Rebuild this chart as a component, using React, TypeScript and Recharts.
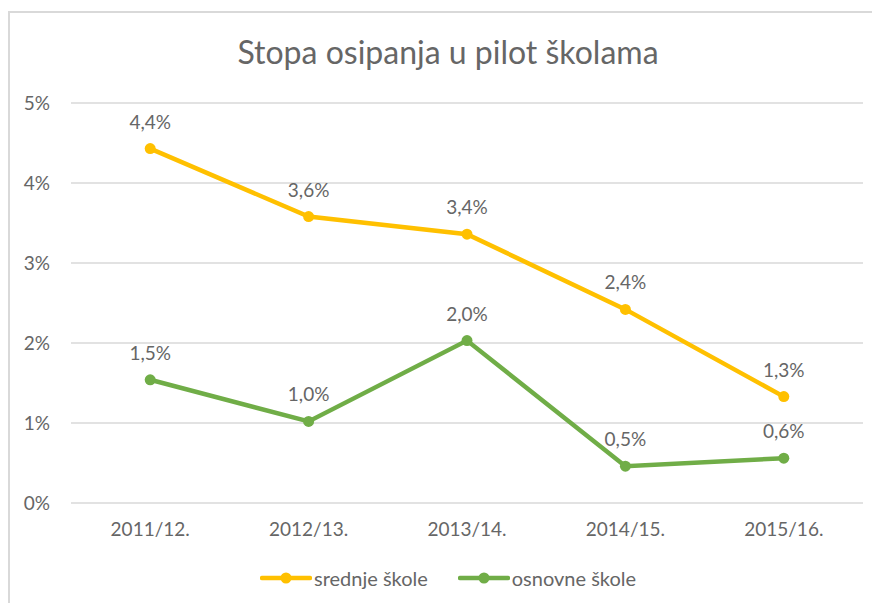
import { LineChart, Line, XAxis, YAxis, CartesianGrid, LabelList } from 'recharts';

const categories = ['2011/12.', '2012/13.', '2013/14.', '2014/15.', '2015/16.'];
const srednje = [4.43, 3.58, 3.36, 2.42, 1.33];
const osnovne = [1.54, 1.02, 2.03, 0.46, 0.56];
const yTicks = [0, 1, 2, 3, 4, 5];

const SERIES = [
  { key: 'srednje', name: 'srednje škole', color: '#FFC000' },
  { key: 'osnovne', name: 'osnovne škole', color: '#70AD47' },
];

const TEXT = '#666666';
const FONT = 'Lato, "Open Sans", sans-serif';

const data = categories.map((cat, i) => ({
  cat,
  srednje: srednje[i],
  osnovne: osnovne[i],
}));

const fmt = (v: number) => `${v.toFixed(1).replace('.', ',')}%`;

const App = () => {
  return (
    <div style={{ position: 'relative', width: 880, height: 611, margin: -8, overflow: 'hidden', background: '#fff' }}>
      <div
        style={{
          position: 'absolute',
          left: 8,
          top: 11,
          width: 900,
          height: 700,
          border: '2px solid #d9d9d9',
        }}
      />
      <div
        style={{
          position: 'absolute',
          top: 32,
          left: 0,
          width: 896,
          textAlign: 'center',
          fontFamily: FONT,
          fontSize: 32,
          color: TEXT,
        }}
      >
        Stopa osipanja u pilot školama
      </div>
      <div style={{ position: 'absolute', left: 0, top: 0 }}>
        <LineChart
          width={880}
          height={611}
          data={data}
          margin={{ top: 103, right: 17, bottom: 78, left: 0 }}
          style={{ fontFamily: FONT }}
        >
          <CartesianGrid vertical={false} stroke="#d9d9d9" strokeWidth={1.5} />
          <XAxis
            dataKey="cat"
            scale="band"
            axisLine={false}
            tickLine={false}
            tickSize={0}
            tickMargin={20}
            height={30}
            tick={{ fill: TEXT, fontSize: 19 }}
          />
          <YAxis
            domain={[0, 5]}
            ticks={yTicks}
            axisLine={false}
            tickLine={false}
            tickSize={0}
            tickMargin={21}
            width={71}
            tickFormatter={(v) => `${v}%`}
            tick={{ fill: TEXT, fontSize: 19 }}
          />
          {SERIES.map((s) => (
            <Line
              key={s.key}
              dataKey={s.key}
              name={s.name}
              stroke={s.color}
              strokeWidth={4.5}
              dot={{ r: 5.5, fill: s.color, stroke: s.color, strokeWidth: 0 }}
              activeDot={false}
              isAnimationActive={false}
            >
              <LabelList
                dataKey={s.key}
                position="top"
                offset={20}
                formatter={(v: number) => fmt(v)}
                style={{ fill: TEXT, fontSize: 19 }}
              />
            </Line>
          ))}
        </LineChart>
      </div>
      <div
        style={{
          position: 'absolute',
          top: 566,
          left: 0,
          width: 896,
          display: 'flex',
          justifyContent: 'center',
          gap: 30,
          fontFamily: FONT,
        }}
      >
        {SERIES.map((s) => (
          <div key={s.key} style={{ display: 'flex', alignItems: 'center' }}>
            <svg width={52} height={14}>
              <line x1={2} y1={7} x2={50} y2={7} stroke={s.color} strokeWidth={4.5} strokeLinecap="round" />
              <circle cx={26} cy={7} r={5.5} fill={s.color} />
            </svg>
            <span style={{ color: TEXT, fontSize: 20, marginLeft: 2 }}>{s.name}</span>
          </div>
        ))}
      </div>
    </div>
  );
};

export default App;
